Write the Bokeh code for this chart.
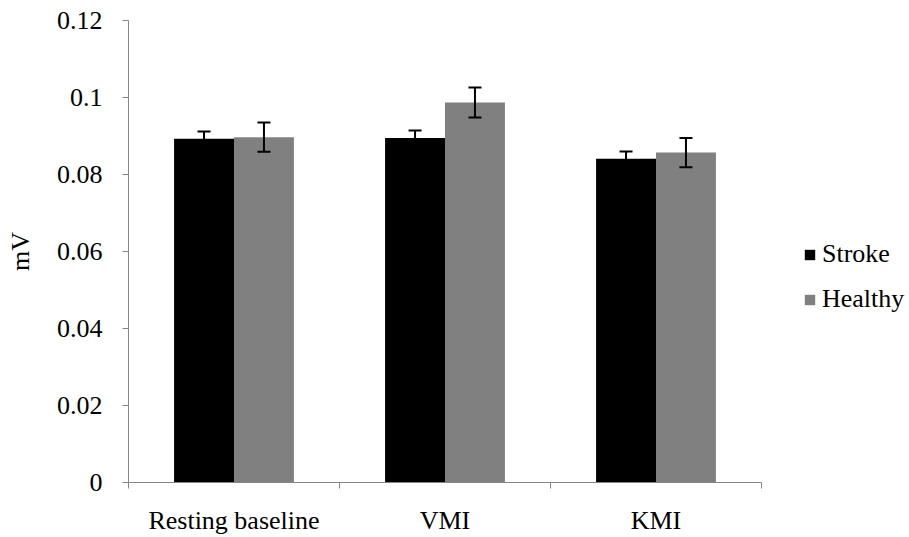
import numpy as np
from bokeh.plotting import figure
from bokeh.layouts import row
from bokeh.models import (ColumnDataSource, Range1d, FixedTicker, Whisker, TeeHead,
                          Legend, LegendItem)
from bokeh.embed import file_html
from bokeh.resources import INLINE

categories = ["Resting baseline", "VMI", "KMI"]
series_names = ["Stroke", "Healthy"]
stroke = [0.0893, 0.0895, 0.0841]
healthy = [0.0897, 0.0987, 0.0857]
stroke_err = [0.0019, 0.0019, 0.0019]
healthy_err = [0.0038, 0.0039, 0.0038]
y_ticks = [0, 0.02, 0.04, 0.06, 0.08, 0.1, 0.12]
y_tick_labels = ["0", "0.02", "0.04", "0.06", "0.08", "0.1", "0.12"]

FONT = "Liberation Serif"
FS = "26px"
AXIS_COLOR = "#868686"
STROKE_COLOR = "#000000"
HEALTHY_COLOR = "#808080"
BAR_W = 0.284

centers = np.arange(len(categories)) + 0.5
src_s = ColumnDataSource(dict(
    x=centers - BAR_W / 2, top=stroke,
    upper=np.array(stroke) + np.array(stroke_err),
    lower=np.array(stroke) - np.array(stroke_err)))
src_h = ColumnDataSource(dict(
    x=centers + BAR_W / 2, top=healthy,
    upper=np.array(healthy) + np.array(healthy_err),
    lower=np.array(healthy) - np.array(healthy_err)))

p = figure(width=763, height=537, output_backend="svg", toolbar_location=None,
           x_range=Range1d(0, len(categories)), y_range=Range1d(0, 0.12),
           min_border_left=128, min_border_right=2, min_border_top=20,
           min_border_bottom=54)
p.outline_line_color = None
p.xgrid.visible = False
p.ygrid.visible = False

p.vbar(x="x", top="top", width=BAR_W, source=src_s, fill_color=STROKE_COLOR, line_color=None)
p.vbar(x="x", top="top", width=BAR_W, source=src_h, fill_color=HEALTHY_COLOR, line_color=None)

for src in (src_s, src_h):
    w = Whisker(source=src, base="x", upper="upper", lower="lower",
                line_color="black", line_width=2, level="overlay",
                upper_head=TeeHead(size=13, line_color="black", line_width=2),
                lower_head=TeeHead(size=13, line_color="black", line_width=2))
    p.add_layout(w)

# y axis
p.yaxis.ticker = FixedTicker(ticks=y_ticks)
p.yaxis.major_label_overrides = {t: l for t, l in zip(y_ticks, y_tick_labels)}
p.yaxis.axis_label = "mV"
p.yaxis.axis_label_text_font = FONT
p.yaxis.axis_label_text_font_size = FS
p.yaxis.axis_label_text_font_style = "normal"
p.yaxis.axis_label_text_color = "black"
p.yaxis.axis_label_standoff = 19
p.yaxis.major_label_text_font = FONT
p.yaxis.major_label_text_font_size = FS
p.yaxis.major_label_text_color = "black"
p.yaxis.major_label_standoff = 20
p.yaxis.axis_line_color = AXIS_COLOR
p.yaxis.major_tick_line_color = AXIS_COLOR
p.yaxis.major_tick_out = 6
p.yaxis.major_tick_in = 0
p.yaxis.minor_tick_line_color = None

# x axis: labels at category centres, ticks at category boundaries
bounds = list(np.arange(len(categories) + 1).astype(float))
p.xaxis.ticker = FixedTicker(ticks=list(centers), minor_ticks=bounds)
p.xaxis.major_label_overrides = {float(c): n for c, n in zip(centers, categories)}
p.xaxis.major_label_text_font = FONT
p.xaxis.major_label_text_font_size = FS
p.xaxis.major_label_text_color = "black"
p.xaxis.major_label_standoff = 17
p.xaxis.major_tick_line_color = None
p.xaxis.major_tick_out = 0
p.xaxis.major_tick_in = 0
p.xaxis.minor_tick_line_color = AXIS_COLOR
p.xaxis.minor_tick_out = 6
p.xaxis.minor_tick_in = 0
p.xaxis.axis_line_color = AXIS_COLOR

# legend panel (separate small plot so the legend is not clipped by the frame)
lp = figure(width=146, height=537, output_backend="svg", toolbar_location=None,
            x_axis_location=None, y_axis_location=None,
            min_border_left=0, min_border_right=0, min_border_top=0, min_border_bottom=0)
lp.outline_line_color = None
lp.xgrid.visible = False
lp.ygrid.visible = False
lr_s = lp.vbar(x="x", top="top", width=BAR_W, source=src_s,
               fill_color=STROKE_COLOR, line_color=None, visible=False)
lr_h = lp.vbar(x="x", top="top", width=BAR_W, source=src_h,
               fill_color=HEALTHY_COLOR, line_color=None, visible=False)

legend = Legend(items=[LegendItem(label=series_names[0], renderers=[lr_s]),
                       LegendItem(label=series_names[1], renderers=[lr_h])],
                location=(40, 168), orientation="vertical")
legend.padding = 0
legend.margin = 0
legend.border_line_color = None
legend.background_fill_alpha = 0
legend.inactive_fill_alpha = 0
legend.glyph_width = 13
legend.glyph_height = 13
legend.label_standoff = 6
legend.spacing = 15
legend.label_text_font = FONT
legend.label_text_font_size = FS
legend.label_text_color = "black"
lp.add_layout(legend, "center")

layout = row(p, lp)
open("out.html", "w").write(file_html(layout, INLINE))
